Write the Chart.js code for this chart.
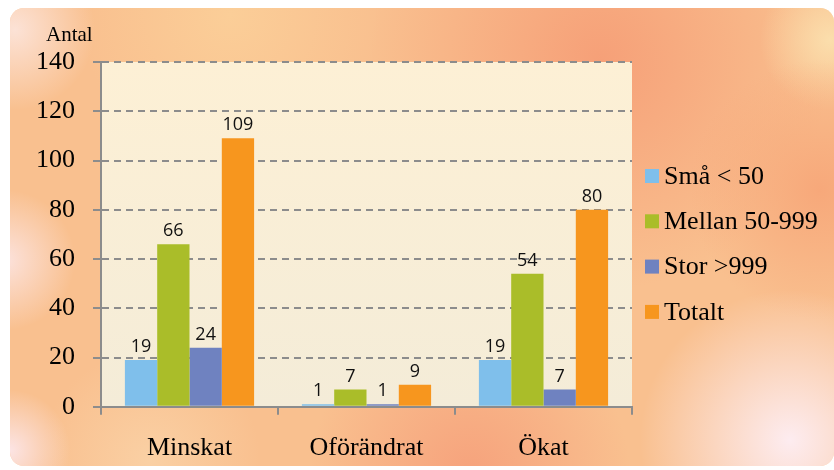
<!DOCTYPE html>
<html>
<head>
<meta charset="utf-8">
<script src="https://cdn.jsdelivr.net/npm/chart.js@4.4.1/dist/chart.umd.min.js"></script>
<style>
  html, body { margin: 0; padding: 0; background: #fff; }
</style>
</head>
<body>
<canvas id="myChart" width="834" height="470"></canvas>
<script>
const categories = ['Minskat', 'Oförändrat', 'Ökat']
const sma = [19, 1, 19]
const mellan = [66, 7, 54]
const stor = [24, 1, 7]
const totalt = [109, 9, 80]
const seriesNames = ['Små < 50', 'Mellan 50-999', 'Stor >999', 'Totalt']
const seriesColors = ['#7fbfeb', '#aabd29', '#6f82c0', '#f7961e']
const yTicks = [0, 20, 40, 60, 80, 100, 120, 140]
const yTitle = 'Antal'

const serif = '"Liberation Serif", "Times New Roman", serif'
const gridGrey = '#8c8c8c'

// warm background + cream plot area
const backdrop = {
  id: 'backdrop',
  beforeDraw(chart) {
    const c = chart.ctx
    const w = chart.width, h = chart.height
    c.save()
    c.fillStyle = '#fff'
    c.fillRect(0, 0, w, h)
    c.beginPath()
    c.roundRect(10, 8, w - 10, h - 12, 14)
    c.clip()
    c.fillStyle = '#f9c08f'
    c.fillRect(0, 0, w, h)
    const blobs = [
      [600, 60, 230, 'rgba(246,160,120,'],
      [470, 475, 160, 'rgba(246,162,124,'],
      [230, 15, 150, 'rgba(251,206,152,'],
      [830, 40, 70, 'rgba(251,222,172,'],
      [820, 190, 130, 'rgba(247,168,122,'],
      [790, 440, 150, 'rgba(253,236,240,'],
      [5, 260, 70, 'rgba(252,226,220,'],
      [15, 30, 80, 'rgba(252,226,214,'],
      [150, 460, 110, 'rgba(250,208,164,'],
      [10, 450, 60, 'rgba(252,228,228,']
    ]
    blobs.forEach(([x, y, r, col]) => {
      const g = c.createRadialGradient(x, y, 0, x, y, r)
      g.addColorStop(0, col + '1)')
      g.addColorStop(1, col + '0)')
      c.fillStyle = g
      c.fillRect(0, 0, w, h)
    })
    const a = chart.chartArea
    const lg = c.createLinearGradient(0, a.top, 0, a.bottom)
    lg.addColorStop(0, '#fdf0d5')
    lg.addColorStop(1, '#f4ecd8')
    c.fillStyle = lg
    c.fillRect(a.left, a.top, a.right - a.left, a.bottom - a.top)
    c.restore()
  }
}

// numbers above the bars
const valueLabels = {
  id: 'valueLabels',
  afterDatasetsDraw(chart) {
    const c = chart.ctx
    c.save()
    c.font = '18px "Open Sans", sans-serif'
    c.fillStyle = '#111'
    c.textAlign = 'center'
    c.textBaseline = 'alphabetic'
    chart.data.datasets.forEach((ds, i) => {
      chart.getDatasetMeta(i).data.forEach((bar, j) => {
        c.fillText(ds.data[j], bar.x, bar.y - 8)
      })
    })
    c.restore()
  }
}

// "Antal" and the legend on the right
const extras = {
  id: 'extras',
  afterDraw(chart) {
    const c = chart.ctx
    c.save()
    c.fillStyle = '#000'
    c.font = '21px ' + serif
    c.textBaseline = 'alphabetic'
    c.fillText(yTitle, 46, 41)
    c.font = '26px ' + serif
    c.textBaseline = 'middle'
    chart.data.datasets.forEach((ds, i) => {
      const y = 176 + i * 45.3
      c.fillStyle = ds.backgroundColor
      c.fillRect(645, y - 7, 14, 14)
      c.fillStyle = '#000'
      c.fillText(ds.label, 664, y + 1)
    })
    c.restore()
  }
}

let ctx = document.getElementById('myChart')

let myChart = new Chart(ctx, {
  type: 'bar',
  data: {
    labels: categories,
    datasets: [sma, mellan, stor, totalt].map((vals, i) => ({
      label: seriesNames[i],
      data: vals,
      backgroundColor: seriesColors[i],
      borderWidth: 0,
      barPercentage: 1,
      categoryPercentage: 0.73
    }))
  },
  options: {
    responsive: false,
    animation: false,
    layout: { padding: { left: 18, top: 62, right: 202, bottom: -12 } },
    plugins: {
      legend: { display: false },
      tooltip: { enabled: false }
    },
    scales: {
      x: {
        grid: { drawOnChartArea: false, drawTicks: true, tickLength: 8, color: gridGrey, lineWidth: 2 },
        border: { color: gridGrey, width: 2 },
        ticks: { color: '#000', padding: 18, font: { family: serif, size: 26 } }
      },
      y: {
        min: 0,
        max: 140,
        afterBuildTicks: (scale) => { scale.ticks = yTicks.map(v => ({ value: v })) },
        grid: { color: gridGrey, lineWidth: 2, tickLength: 8 },
        border: { color: gridGrey, width: 2, dash: [7, 5] },
        ticks: { color: '#000', padding: 18, font: { family: serif, size: 26 } }
      }
    }
  },
  plugins: [backdrop, valueLabels, extras]
})
</script>
</body>
</html>
